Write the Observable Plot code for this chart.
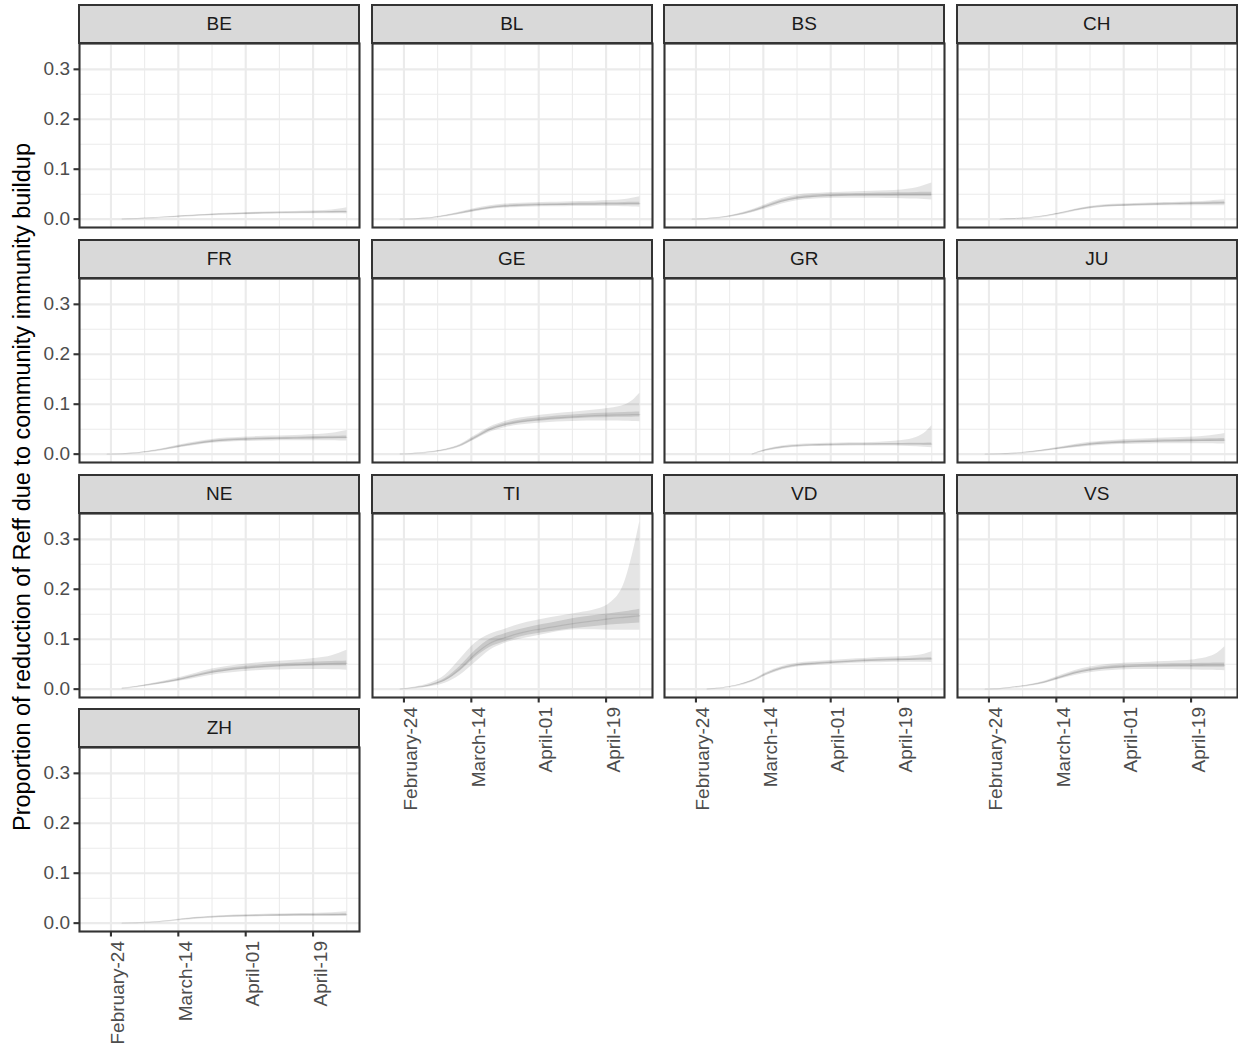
<!DOCTYPE html>
<html>
<head>
<meta charset="utf-8">
<script src="https://cdn.jsdelivr.net/npm/d3@7"></script>
<script src="https://cdn.jsdelivr.net/npm/@observablehq/plot@0.6"></script>
<style>
  body { margin: 0; background: #fff; font-family: "Liberation Sans", Arial, sans-serif; }
  #chart { position: relative; width: 1238px; height: 1049px; overflow: hidden; background: #fff; }
  .strip {
    position: absolute; box-sizing: border-box; background: #D9D9D9;
    border: 2px solid #333333; color: #1A1A1A; font-size: 19px;
    display: flex; align-items: center; justify-content: center;
  }
  .panel { position: absolute; }
  .ytitle {
    position: absolute; white-space: nowrap; font-size: 23.5px; color: #000;
    transform: translate(-50%, -50%) rotate(-90deg);
  }
</style>
</head>
<body>
<div id="chart"></div>
<script>
// Cantons, in facet order
const cantons = ["BE","BL","BS","CH","FR","GE","GR","JU","NE","TI","VD","VS","ZH"];
// Sampling days, counted from 24 February
const days = [-5,-1,3,7,11,15,19,23,27,31,35,39,43,47,51,55,59,61,63];
const period = [-5, 63];
const xTickDays = [0, 18, 36, 54];
const xTickLabels = ["February-24","March-14","April-01","April-19"];
const xMinorDays = [9, 27, 45, 63];
const yTicks = [0, 0.1, 0.2, 0.3];
const yMinorTicks = [0.05, 0.15, 0.25, 0.35];
const yTitle = "Proportion of reduction of Reff due to community immunity buildup";

// Posterior median, one row per canton
const mid = [
  [null,null,0.0003,0.0012,0.0025,0.004,0.0058,0.0075,0.009,0.0102,0.011,0.0118,0.0125,0.013,0.0135,0.014,0.0143,0.0145,0.0147],
  [null,0,0.0008,0.0025,0.0065,0.012,0.018,0.023,0.026,0.0275,0.0285,0.029,0.0295,0.03,0.0302,0.0305,0.0308,0.031,0.031],
  [null,0,0.0012,0.0035,0.0085,0.016,0.026,0.036,0.0425,0.0455,0.0472,0.0481,0.0486,0.049,0.0492,0.0494,0.0495,0.0495,0.0496],
  [null,null,0,0.001,0.0028,0.0062,0.0115,0.018,0.0232,0.0262,0.0277,0.0287,0.0295,0.0302,0.0308,0.0314,0.032,0.0323,0.0327],
  [null,0,0.0008,0.0025,0.006,0.011,0.0165,0.0215,0.0255,0.028,0.0295,0.0305,0.0312,0.0318,0.0323,0.0328,0.0332,0.0334,0.0336],
  [null,0.0003,0.0015,0.004,0.0085,0.017,0.033,0.049,0.059,0.065,0.0685,0.0715,0.0738,0.0755,0.077,0.078,0.0787,0.079,0.0792],
  [null,null,null,null,null,0,0.0085,0.0138,0.0165,0.018,0.0188,0.0193,0.0196,0.0198,0.0199,0.02,0.0201,0.0201,0.0202],
  [null,0,0.0006,0.0018,0.0042,0.0078,0.012,0.0162,0.0198,0.0222,0.0238,0.0249,0.0257,0.0264,0.027,0.0274,0.0278,0.028,0.0282],
  [null,null,0.0015,0.005,0.0095,0.0145,0.0205,0.0275,0.034,0.0385,0.042,0.0445,0.0465,0.048,0.0492,0.0502,0.051,0.0513,0.0516],
  [null,0.0003,0.003,0.008,0.019,0.041,0.07,0.092,0.103,0.112,0.1185,0.1235,0.1285,0.133,0.137,0.141,0.144,0.1455,0.147],
  [null,null,0.0003,0.0025,0.0075,0.0165,0.031,0.042,0.048,0.0508,0.0528,0.0545,0.0562,0.0575,0.0585,0.0593,0.06,0.0603,0.0605],
  [null,0,0.0012,0.004,0.008,0.014,0.0235,0.0325,0.0385,0.0425,0.0448,0.046,0.0467,0.0472,0.0475,0.0477,0.0479,0.048,0.048],
  [null,null,0,0.0008,0.002,0.0042,0.0075,0.0103,0.0122,0.0135,0.0145,0.0152,0.0157,0.0161,0.0164,0.0166,0.0168,0.0169,0.017]
];

// 95% credible interval
const lo95 = [
  [null,null,0.0002,0.001,0.002,0.0033,0.0048,0.0062,0.0075,0.0085,0.0092,0.0098,0.0103,0.0106,0.0108,0.011,0.011,0.0108,0.0105],
  [null,0,0.0006,0.002,0.0052,0.0098,0.015,0.0195,0.0222,0.0235,0.0243,0.0247,0.025,0.0252,0.0252,0.0251,0.0248,0.0244,0.024],
  [null,0,0.0009,0.0027,0.0068,0.013,0.0215,0.0305,0.0368,0.0398,0.0412,0.0418,0.042,0.0419,0.0415,0.041,0.0402,0.0393,0.0383],
  [null,null,0,0.0008,0.0024,0.0054,0.0102,0.0162,0.021,0.0238,0.0252,0.026,0.0265,0.0268,0.027,0.027,0.0269,0.0268,0.0266],
  [null,0,0.0006,0.002,0.0048,0.009,0.0137,0.018,0.0216,0.0239,0.0252,0.026,0.0265,0.0267,0.0268,0.0268,0.0266,0.0264,0.0262],
  [null,0.0002,0.0012,0.0033,0.0072,0.0148,0.029,0.0438,0.0528,0.0582,0.0612,0.0635,0.065,0.0658,0.0662,0.0662,0.0658,0.0655,0.065],
  [null,null,null,null,null,0,0.0068,0.0115,0.014,0.0153,0.016,0.0163,0.0164,0.0163,0.0161,0.0157,0.0148,0.014,0.013],
  [null,0,0.0005,0.0014,0.0033,0.0062,0.0096,0.013,0.016,0.018,0.0192,0.02,0.0205,0.0208,0.0209,0.0209,0.0207,0.0205,0.0203],
  [null,null,0.0012,0.004,0.0077,0.0118,0.0167,0.0225,0.028,0.0318,0.0348,0.0368,0.0382,0.039,0.0394,0.0394,0.039,0.0386,0.038],
  [null,0.0002,0.002,0.005,0.012,0.028,0.053,0.078,0.092,0.1,0.106,0.112,0.117,0.119,0.119,0.118,0.118,0.118,0.118],
  [null,null,0.0002,0.0021,0.0066,0.0148,0.028,0.0385,0.0442,0.047,0.0488,0.0503,0.0517,0.0527,0.0533,0.0537,0.054,0.0538,0.0535],
  [null,0,0.001,0.0033,0.0066,0.0116,0.0197,0.0275,0.0328,0.0363,0.0383,0.0392,0.0395,0.0394,0.039,0.0385,0.0378,0.0373,0.0368],
  [null,null,0,0.0006,0.0016,0.0035,0.0064,0.0089,0.0105,0.0116,0.0124,0.0129,0.0132,0.0134,0.0134,0.0134,0.0133,0.0132,0.0131]
];
const hi95 = [
  [null,null,0.0004,0.0015,0.003,0.0048,0.0068,0.0088,0.0105,0.012,0.013,0.0138,0.0146,0.0153,0.016,0.0168,0.0185,0.0205,0.023],
  [null,0,0.001,0.003,0.0078,0.0143,0.0212,0.027,0.0302,0.0318,0.033,0.0337,0.0345,0.0353,0.036,0.0372,0.0392,0.042,0.045],
  [null,0,0.0015,0.0043,0.0103,0.019,0.0305,0.0415,0.0482,0.0512,0.053,0.054,0.0548,0.0557,0.0568,0.0585,0.0628,0.0672,0.0725],
  [null,null,0,0.0012,0.0032,0.007,0.0128,0.0198,0.0254,0.0286,0.0302,0.0313,0.0323,0.0332,0.034,0.035,0.0365,0.0377,0.039],
  [null,0,0.001,0.003,0.0072,0.013,0.0193,0.025,0.0294,0.0321,0.0338,0.0351,0.0361,0.037,0.038,0.0393,0.0418,0.0442,0.0475],
  [null,0.0004,0.0018,0.0048,0.0099,0.0194,0.0372,0.0545,0.0655,0.0722,0.0762,0.0798,0.0828,0.0855,0.0885,0.092,0.0985,0.107,0.122],
  [null,null,null,null,null,0,0.0102,0.0162,0.0192,0.0208,0.0218,0.0225,0.023,0.0235,0.025,0.0275,0.034,0.042,0.057],
  [null,0,0.0007,0.0022,0.0051,0.0094,0.0144,0.0194,0.0236,0.0264,0.0284,0.0298,0.031,0.0321,0.0332,0.0345,0.0368,0.0388,0.0415],
  [null,null,0.0018,0.006,0.0113,0.0172,0.0243,0.0325,0.0402,0.0455,0.0495,0.0523,0.0548,0.0568,0.059,0.062,0.067,0.072,0.078],
  [null,0.0004,0.0045,0.012,0.028,0.06,0.092,0.11,0.12,0.13,0.137,0.143,0.148,0.153,0.159,0.172,0.215,0.268,0.335],
  [null,null,0.0004,0.0029,0.0084,0.0182,0.034,0.0455,0.0518,0.0546,0.0568,0.0587,0.0607,0.0623,0.0637,0.065,0.0675,0.07,0.075],
  [null,0,0.0014,0.0047,0.0094,0.0164,0.0273,0.0375,0.0442,0.0487,0.0513,0.0528,0.054,0.0552,0.0567,0.059,0.0652,0.072,0.085],
  [null,null,0,0.001,0.0024,0.0049,0.0086,0.0117,0.0139,0.0154,0.0166,0.0175,0.0182,0.0188,0.0194,0.02,0.021,0.0218,0.0228]
];

// 50% credible interval
const lo50 = [
  [null,null,0.0003,0.0011,0.0023,0.0037,0.0054,0.007,0.0084,0.0096,0.0103,0.011,0.0117,0.0122,0.0126,0.013,0.0132,0.0133,0.0134],
  [null,0,0.0007,0.0023,0.006,0.0112,0.0168,0.0215,0.0244,0.0258,0.0267,0.0271,0.0275,0.0279,0.028,0.0282,0.0283,0.0284,0.0284],
  [null,0,0.0011,0.0032,0.0078,0.0148,0.0242,0.0337,0.04,0.043,0.0446,0.0454,0.0458,0.046,0.046,0.046,0.0459,0.0458,0.0457],
  [null,null,0,0.0009,0.0026,0.0058,0.0109,0.0172,0.0222,0.0251,0.0265,0.0275,0.0282,0.0288,0.0292,0.0297,0.03,0.0302,0.0304],
  [null,0,0.0007,0.0023,0.0055,0.0102,0.0154,0.0201,0.0239,0.0263,0.0277,0.0286,0.0292,0.0297,0.0301,0.0305,0.0307,0.0308,0.0309],
  [null,0.0003,0.0014,0.0037,0.008,0.0161,0.0313,0.0467,0.0563,0.062,0.0652,0.068,0.07,0.0715,0.0727,0.0735,0.074,0.0741,0.0742],
  [null,null,null,null,null,0,0.0079,0.013,0.0157,0.0171,0.0179,0.0183,0.0186,0.0187,0.0187,0.0187,0.0186,0.0185,0.0184],
  [null,0,0.0006,0.0016,0.0038,0.0071,0.011,0.0148,0.0181,0.0203,0.0218,0.0228,0.0235,0.0241,0.0245,0.0248,0.0251,0.0252,0.0253],
  [null,null,0.0014,0.0046,0.0088,0.0134,0.019,0.0256,0.0317,0.0359,0.0392,0.0415,0.0434,0.0447,0.0456,0.0462,0.0466,0.0467,0.0468],
  [null,0.0003,0.0026,0.007,0.0165,0.036,0.063,0.084,0.095,0.1045,0.1105,0.115,0.119,0.1225,0.1255,0.1285,0.1305,0.1315,0.1325],
  [null,null,0.0003,0.0024,0.0072,0.0159,0.0301,0.0408,0.0467,0.0495,0.0514,0.053,0.0546,0.0558,0.0567,0.0574,0.058,0.0582,0.0583],
  [null,0,0.0011,0.0037,0.0075,0.013,0.022,0.0305,0.0361,0.0399,0.042,0.0431,0.0436,0.0439,0.044,0.044,0.044,0.0439,0.0438],
  [null,null,0,0.0007,0.0018,0.004,0.0071,0.0098,0.0116,0.0128,0.0137,0.0143,0.0147,0.015,0.0152,0.0153,0.0154,0.0154,0.0155]
];
const hi50 = [
  [null,null,0.0003,0.0013,0.0027,0.0043,0.0062,0.008,0.0096,0.0108,0.0117,0.0126,0.0133,0.0138,0.0144,0.015,0.0155,0.0158,0.016],
  [null,0,0.0009,0.0027,0.007,0.0128,0.0192,0.0245,0.0276,0.0292,0.0303,0.0309,0.0315,0.0321,0.0325,0.0329,0.0334,0.0337,0.0338],
  [null,0,0.0013,0.0038,0.0092,0.0172,0.0278,0.0383,0.045,0.048,0.0498,0.0508,0.0514,0.052,0.0524,0.0528,0.0533,0.0536,0.0539],
  [null,null,0,0.0011,0.003,0.0066,0.0121,0.0188,0.0242,0.0273,0.0289,0.03,0.0308,0.0316,0.0324,0.0331,0.034,0.0344,0.035],
  [null,0,0.0009,0.0027,0.0065,0.0118,0.0176,0.0229,0.0271,0.0297,0.0313,0.0324,0.0332,0.0339,0.0345,0.0351,0.0357,0.036,0.0363],
  [null,0.0003,0.0016,0.0043,0.009,0.0179,0.0347,0.0513,0.0618,0.068,0.0718,0.075,0.0776,0.0795,0.0812,0.0825,0.0835,0.0839,0.0842],
  [null,null,null,null,null,0,0.0091,0.0146,0.0173,0.0189,0.0197,0.0203,0.0207,0.021,0.0212,0.0214,0.0217,0.0219,0.0222],
  [null,0,0.0006,0.002,0.0046,0.0085,0.013,0.0176,0.0215,0.0241,0.0258,0.027,0.0279,0.0287,0.0295,0.03,0.0306,0.0309,0.0312],
  [null,null,0.0016,0.0054,0.0102,0.0156,0.022,0.0294,0.0363,0.0411,0.0448,0.0475,0.0496,0.0513,0.0528,0.0542,0.0555,0.056,0.0565],
  [null,0.0003,0.0034,0.009,0.0215,0.046,0.077,0.1,0.111,0.1195,0.1265,0.132,0.138,0.1435,0.1475,0.151,0.155,0.1575,0.16],
  [null,null,0.0003,0.0026,0.0078,0.0171,0.0319,0.0432,0.0493,0.0521,0.0542,0.056,0.0578,0.0592,0.0603,0.0612,0.062,0.0624,0.0627],
  [null,0,0.0013,0.0043,0.0085,0.015,0.025,0.0345,0.0409,0.0451,0.0476,0.0489,0.0498,0.0505,0.051,0.0515,0.052,0.0522,0.0525],
  [null,null,0,0.0009,0.0022,0.0044,0.0079,0.0108,0.0128,0.0142,0.0153,0.0161,0.0167,0.0172,0.0176,0.0179,0.0182,0.0184,0.0186]
];

// ---- layout of the facet grid ----
const NCOL = 4;
const PANEL_W = 280, PANEL_H = 184, STRIP_H = 38;
const GRID_X0 = 79.3, GRID_Y0 = 4.7, COL_STEP = 292.5, ROW_STEP = 234.9;
const ML = 80, MR = 6, MT = 6, MB = 120;
const FONT = "'Liberation Sans', Arial, Helvetica, sans-serif";
const TICK_FONT = 19;

// shared scales, expanded by 5% on each side
const xPad = 0.05 * (period[1] - period[0]);
const xDomain = [period[0] - xPad, period[1] + xPad];
const yMax = d3.max(hi95.flat());
const yPad = 0.05 * yMax;
const yDomain = [-yPad, yMax + yPad];

const chart = document.getElementById("chart");
const gridColor = "#EBEBEB";
const curve = "monotone-x";

cantons.forEach((name, i) => {
  const col = i % NCOL, row = Math.floor(i / NCOL);
  const left = GRID_X0 + col * COL_STEP;
  const stripTop = GRID_Y0 + row * ROW_STEP;
  const panelTop = stripTop + STRIP_H;
  const showY = col === 0;
  const showX = i + NCOL >= cantons.length;

  const rows = days
    .map((d, j) => ({day: d, mid: mid[i][j], lo95: lo95[i][j], hi95: hi95[i][j], lo50: lo50[i][j], hi50: hi50[i][j]}))
    .filter(r => r.mid != null);

  const marks = [
    Plot.gridX(xMinorDays, {stroke: gridColor, strokeOpacity: 1, strokeWidth: 1.07}),
    Plot.gridY(yMinorTicks, {stroke: gridColor, strokeOpacity: 1, strokeWidth: 1.07}),
    Plot.gridX(xTickDays, {stroke: gridColor, strokeOpacity: 1, strokeWidth: 2.13}),
    Plot.gridY(yTicks, {stroke: gridColor, strokeOpacity: 1, strokeWidth: 2.13}),
    Plot.areaY(rows, {x: "day", y1: "lo95", y2: "hi95", fill: "#000", fillOpacity: 0.1, curve}),
    Plot.areaY(rows, {x: "day", y1: "lo50", y2: "hi50", fill: "#000", fillOpacity: 0.12, curve}),
    Plot.lineY(rows, {x: "day", y: "mid", stroke: "#000", strokeOpacity: 0.09, strokeWidth: 1.3, curve}),
    Plot.frame({stroke: "#333333", strokeWidth: 2.1})
  ];
  if (showY) {
    marks.push(Plot.axisY({
      ticks: yTicks, tickFormat: d3.format(".1f"), tickSize: 5.5, tickPadding: 4,
      stroke: "#333333", strokeWidth: 2.1, fill: "#4D4D4D", fontSize: TICK_FONT, label: null
    }));
  }
  if (showX) {
    marks.push(Plot.axisX({
      ticks: xTickDays, tickFormat: d => xTickLabels[xTickDays.indexOf(d)],
      tickRotate: -90, textAnchor: "end", lineAnchor: "top",
      tickSize: 5.5, tickPadding: 4, stroke: "#333333", strokeWidth: 2.1,
      fill: "#4D4D4D", fontSize: TICK_FONT, label: null
    }));
  }

  const svg = Plot.plot({
    width: ML + PANEL_W + MR, height: MT + PANEL_H + MB,
    marginLeft: ML, marginRight: MR, marginTop: MT, marginBottom: MB,
    x: {domain: xDomain, axis: null},
    y: {domain: yDomain, axis: null},
    style: {background: "transparent", overflow: "visible", fontFamily: FONT},
    marks
  });
  svg.classList.add("panel");
  svg.style.left = (left - ML) + "px";
  svg.style.top = (panelTop - MT) + "px";
  chart.appendChild(svg);

  const strip = document.createElement("div");
  strip.className = "strip";
  strip.style.left = (left - 1) + "px";
  strip.style.top = (stripTop - 1) + "px";
  strip.style.width = (PANEL_W + 2) + "px";
  strip.style.height = (STRIP_H + 2) + "px";
  strip.textContent = name;
  chart.appendChild(strip);
});

const title = document.createElement("div");
title.className = "ytitle";
title.style.left = "22px";
title.style.top = "487px";
title.textContent = yTitle;
chart.appendChild(title);
</script>
</body>
</html>
